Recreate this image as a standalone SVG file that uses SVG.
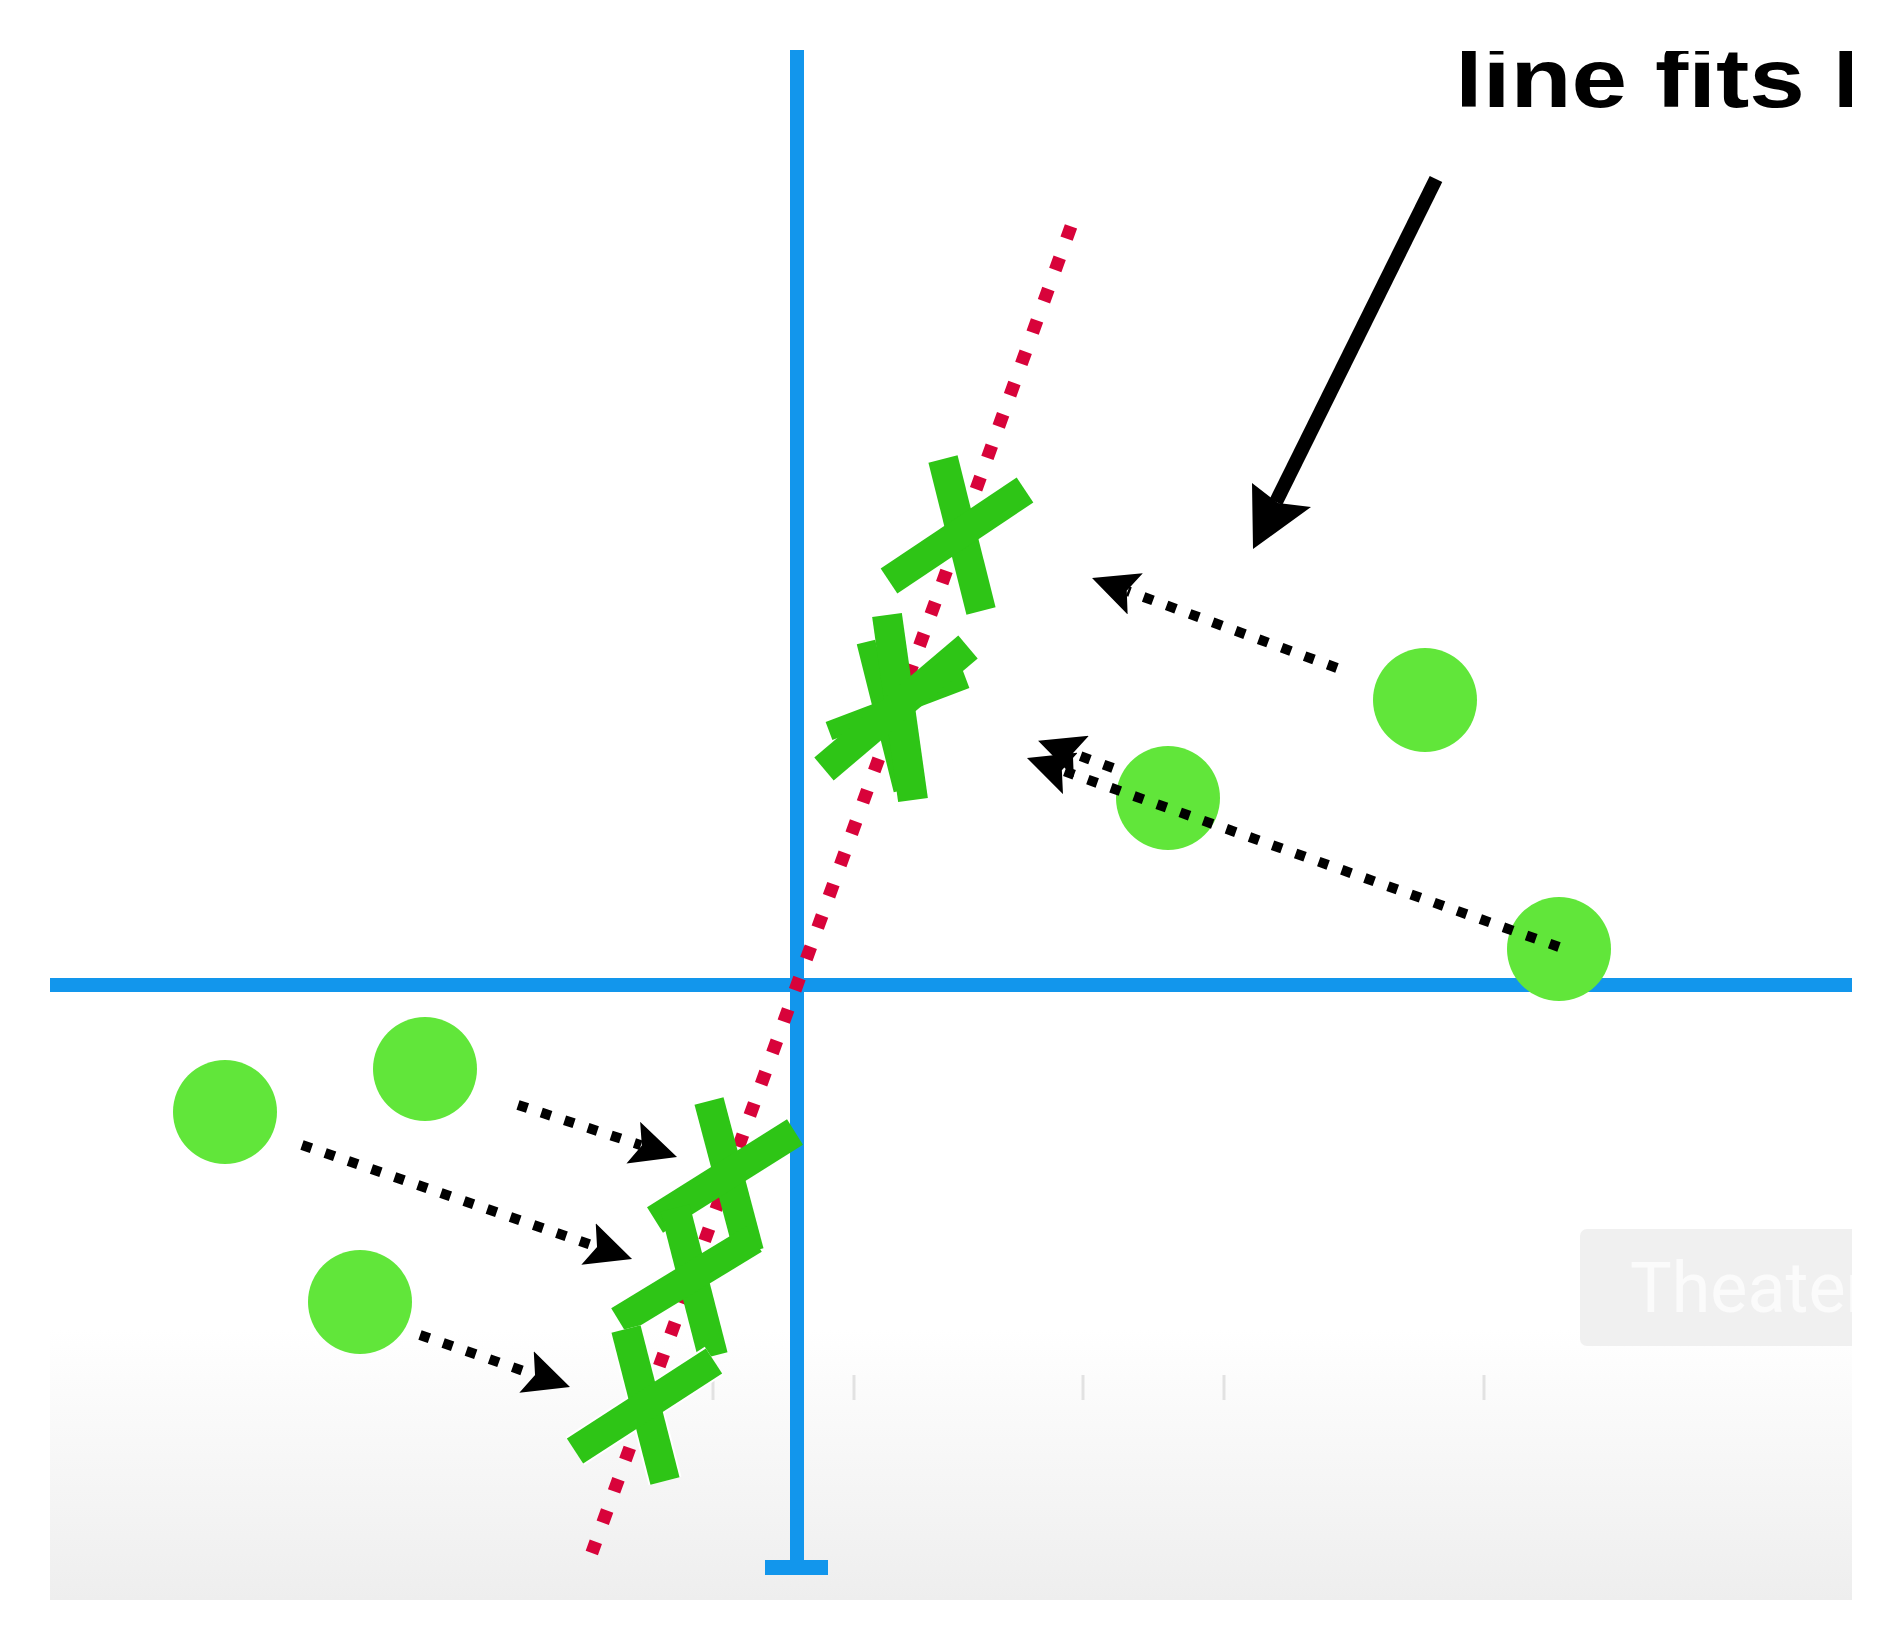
<svg xmlns="http://www.w3.org/2000/svg" width="1902" height="1649" viewBox="0 0 1902 1649">
  <defs>
    <style>
      .axis{stroke:#1296ec;stroke-width:14;fill:none}
      .fit{stroke:#d8033a;stroke-width:13;stroke-dasharray:13 20.3;fill:none}
      .xs{stroke:#2ec516;stroke-width:30;stroke-linecap:butt;fill:none}
      .xs2{stroke:#2ec516;stroke-width:19;stroke-linecap:butt;fill:none}
      .xw{stroke:#ffffff;stroke-width:34;stroke-linecap:butt;fill:none}
      .pt{fill:#61e63a}
      .dot{stroke:#000;stroke-width:10;stroke-dasharray:10 14.5;fill:none;marker-end:url(#ah)}
      .tick{stroke:#e2e2e2;stroke-width:3}
    </style>
    <marker id="ah" markerUnits="userSpaceOnUse" viewBox="0 0 46 44" markerWidth="46" markerHeight="44" refX="8" refY="22" orient="auto">
      <path d="M0,0 L46,22 L0,44 L9,22 Z" fill="#000"/>
    </marker>
    <linearGradient id="bar" x1="0" y1="0" x2="0" y2="1">
      <stop offset="0" stop-color="#ffffff"/>
      <stop offset="1" stop-color="#eeeeee"/>
    </linearGradient>
    <clipPath id="vp"><rect x="50" y="49" width="1802" height="1551"/></clipPath>
    <clipPath id="vpt"><rect x="50" y="51" width="1802" height="1549"/></clipPath>
  </defs>
  <rect width="1902" height="1649" fill="#ffffff"/>

  <g id="player-bar" clip-path="url(#vp)">
    <rect x="50" y="1330" width="1802" height="270" fill="url(#bar)"/>
    <line class="tick" x1="713" y1="1375" x2="713" y2="1400"/>
    <line class="tick" x1="854" y1="1375" x2="854" y2="1400"/>
    <line class="tick" x1="1083" y1="1375" x2="1083" y2="1400"/>
    <line class="tick" x1="1224" y1="1375" x2="1224" y2="1400"/>
    <line class="tick" x1="1484" y1="1375" x2="1484" y2="1400"/>
  </g>

  <g id="theater-button" clip-path="url(#vp)">
    <rect x="1580" y="1229" width="300" height="117" rx="7" fill="#f0f0f0"/>
    <text x="1630" y="1312" font-family="Roboto, 'Liberation Sans', sans-serif" font-size="70" fill="#fbfbfb">Theater</text>
  </g>

  <g id="axes">
    <line class="axis" x1="50" y1="985" x2="1852" y2="985"/>
    <line class="axis" x1="797" y1="50" x2="797" y2="1567"/>
    <rect x="765" y="1560" width="63" height="15" fill="#1296ec"/>
  </g>

  <g id="fit-line">
    <line class="fit" x1="1071" y1="226.4" x2="591.8" y2="1553"/>
  </g>

  <g id="projections-upper">
    <g id="x1">
      <line class="xs" x1="943" y1="459" x2="981" y2="611"/>
      <line class="xs" x1="1025" y1="490" x2="889" y2="581"/>
    </g>
    <g id="x2">
      <line class="xs2" x1="866" y1="642" x2="903" y2="790"/>
      <line class="xs2" x1="966" y1="679" x2="829" y2="731"/>
      <line class="xs" x1="887" y1="615" x2="913" y2="800"/>
      <line class="xs" x1="968" y1="647" x2="824" y2="769"/>
    </g>
  </g>

  <g id="projections-lower">
    <g id="x3">
      <line class="xs" x1="709" y1="1101" x2="749" y2="1252"/>
      <line class="xs" x1="795" y1="1132" x2="655" y2="1220"/>
    </g>
    <g id="x4">
      <line class="xs" x1="675" y1="1208" x2="713" y2="1356"/>
      <line class="xs" x1="754" y1="1239" x2="619" y2="1321"/>
    </g>
    <g id="x5">
      <line class="xw" x1="626" y1="1329" x2="665" y2="1481"/>
      <line class="xw" x1="714" y1="1361" x2="575" y2="1451"/>
      <line class="xs" x1="626" y1="1329" x2="665" y2="1481"/>
      <line class="xs" x1="714" y1="1361" x2="575" y2="1451"/>
    </g>
  </g>

  <g id="data-points">
    <circle id="p1" class="pt" cx="1425" cy="700" r="52"/>
    <circle id="p2" class="pt" cx="1168" cy="798" r="52"/>
    <circle id="p3" class="pt" cx="1559" cy="949" r="52"/>
    <circle id="p4" class="pt" cx="225" cy="1112" r="52"/>
    <circle id="p5" class="pt" cx="425" cy="1069" r="52"/>
    <circle id="p6" class="pt" cx="360" cy="1302" r="52"/>
  </g>

  <g id="connectors">
    <line class="dot" x1="1337" y1="668" x2="1127.7" y2="591.1"/>
    <line class="dot" x1="1559" y1="947" x2="1062.8" y2="770.7"/>
    <line class="dot" x1="1113" y1="768" x2="1073.8" y2="753.7"/>
    <line class="dot" x1="518" y1="1105" x2="640.9" y2="1145.2"/>
    <line class="dot" x1="302" y1="1145" x2="596.1" y2="1246.6"/>
    <line class="dot" x1="420" y1="1335" x2="534.1" y2="1374.6"/>
  </g>

  <g id="callout-arrow">
    <line x1="1436" y1="179" x2="1276" y2="502" stroke="#000" stroke-width="14"/>
    <polygon points="1253,549 1252,483 1278,503 1311,507" fill="#000"/>
  </g>

  <g id="title" clip-path="url(#vpt)">
    <text transform="translate(1455,107) scale(1.19,1)" font-family="'Liberation Sans', Arial, sans-serif" font-weight="bold" font-size="84" fill="#000">line fits I</text>
  </g>
</svg>
